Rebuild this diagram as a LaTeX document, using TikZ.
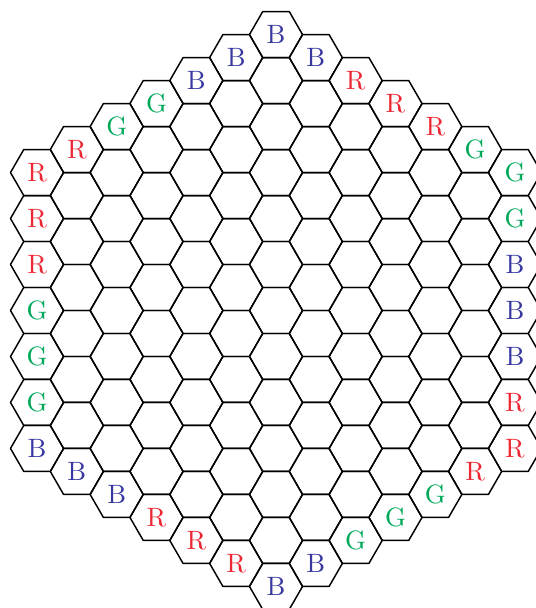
\documentclass[tikz,border=0pt]{standalone}
\definecolor{hexblue}{RGB}{56,56,160}
\definecolor{hexred}{RGB}{236,40,52}
\definecolor{hexgreen}{RGB}{0,168,90}
\begin{document}
\begin{tikzpicture}[x=10pt,y=10pt,
  hexline/.style={draw=black,line width=0.55pt,line join=round},
  lab/.style={font=\fontsize{10}{12}\selectfont,inner sep=0pt}]
\useasboundingbox (-10.395,-11.205) rectangle (9.755,11.695);
\foreach \q in {-6,...,6}{
  \pgfmathtruncatemacro{\rmin}{max(-6,-6-\q)}
  \pgfmathtruncatemacro{\rmax}{min(6,6-\q)}
  \foreach \r in {\rmin,...,\rmax}{
    \draw[hexline] ({1.5*\q+1},{sqrt(3)*(\r+\q/2)}) -- ++(120:1) -- ++(180:1) -- ++(240:1) -- ++(300:1) -- ++(0:1) -- cycle;
  }
}
\foreach \q/\r/\t/\c [count=\i] in {
  0/6/B/hexblue,
  1/5/B/hexblue, 2/4/R/hexred, 3/3/R/hexred, 4/2/R/hexred, 5/1/G/hexgreen, 6/0/G/hexgreen,
  6/-1/G/hexgreen, 6/-2/B/hexblue, 6/-3/B/hexblue, 6/-4/B/hexblue, 6/-5/R/hexred, 6/-6/R/hexred,
  5/-6/R/hexred, 4/-6/G/hexgreen, 3/-6/G/hexgreen, 2/-6/G/hexgreen, 1/-6/B/hexblue, 0/-6/B/hexblue,
  -1/-5/R/hexred, -2/-4/R/hexred, -3/-3/R/hexred, -4/-2/B/hexblue, -5/-1/B/hexblue, -6/0/B/hexblue,
  -6/1/G/hexgreen, -6/2/G/hexgreen, -6/3/G/hexgreen, -6/4/R/hexred, -6/5/R/hexred, -6/6/R/hexred,
  -5/6/R/hexred, -4/6/G/hexgreen, -3/6/G/hexgreen, -2/6/B/hexblue, -1/6/B/hexblue}{
  \node[lab,text=\c] (lab\i) at ({1.5*\q},{sqrt(3)*(\r+\q/2)}) {\t};
}
\end{tikzpicture}
\end{document}
